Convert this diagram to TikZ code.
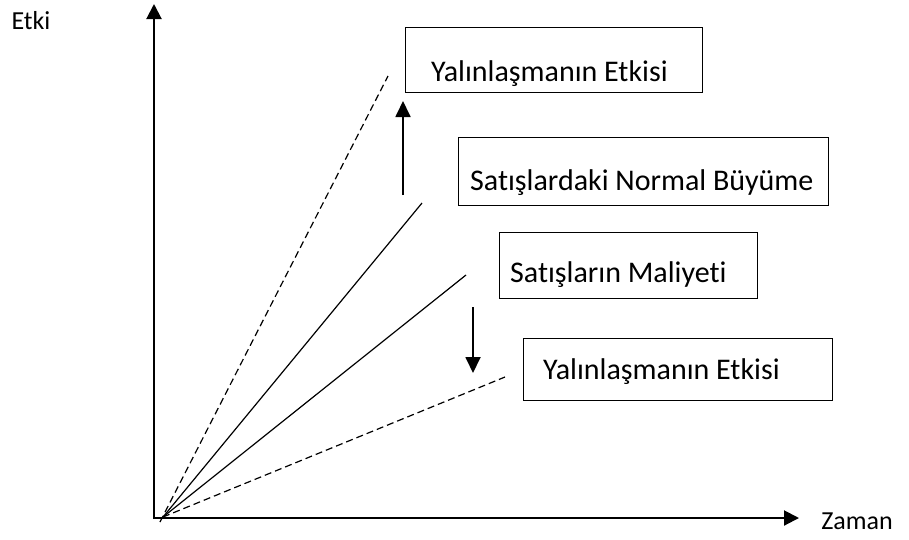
\documentclass[tikz,border=0pt]{standalone}
\usepackage{fontspec}
\setmainfont{Carlito}[Ligatures=NoCommon]
\usetikzlibrary{arrows.meta}
\begin{document}
\begin{tikzpicture}[x=1pt,y=-1pt,
  axis/.style={line width=2pt,-{Triangle[length=15pt,width=15pt]}},
  shift arrow/.style={line width=1.8pt,-{Triangle[length=16pt,width=15pt]}},
  trend/.style={line width=1.2pt},
  bound/.style={line width=1.2pt,dash pattern=on 7pt off 4pt},
  box/.style={draw,line width=1pt,inner sep=0pt,anchor=north west},
  lbl/.style={font=\fontsize{30}{34}\selectfont,inner sep=0pt,anchor=west},
  axlbl/.style={font=\fontsize{26}{30}\selectfont,inner sep=0pt}]
\useasboundingbox (0,0) rectangle (909,539);

% axes
\coordinate (O) at (154,518);
\coordinate (ytop) at (154,4);
\coordinate (xend) at (799,518);
\draw[axis] (154,519) -- (ytop);
\draw[axis] (153,518) -- (xend);
\node[axlbl] (etki) at (31,21) {Etki};
\node[axlbl] (zaman) at (857,521) {Zaman};

% trend lines from the origin
\coordinate (s1) at (160,522);
\coordinate (s2) at (163,517);
\coordinate (e1) at (388,76);
\coordinate (e2) at (422,203);
\coordinate (e3) at (466,275);
\coordinate (e4) at (505,377);
\draw[bound] (s1) -- (e1);
\draw[trend] (s2) -- (e2);
\draw[trend] (s2) -- (e3);
\draw[bound] (s2) -- (e4);

% shift arrows
\coordinate (u0) at (403,195);
\coordinate (u1) at (403,101);
\coordinate (d0) at (473,307);
\coordinate (d1) at (473,373);
\draw[shift arrow] (u0) -- (u1);
\draw[shift arrow] (d0) -- (d1);

% labelled boxes
\node[box,minimum width=297pt,minimum height=65pt] (b1) at (405,27) {};
\node[lbl] (t1) at (431,74) {Yalınlaşmanın Etkisi};
\node[box,minimum width=370pt,minimum height=68pt] (b2) at (458,137) {};
\node[lbl] (t2) at (470,183) {Satışlardaki Normal Büyüme};
\node[box,minimum width=258pt,minimum height=66pt] (b3) at (499,232) {};
\node[lbl] (t3) at (510,275) {Satışların Maliyeti};
\node[box,minimum width=309pt,minimum height=62pt] (b4) at (523,338) {};
\node[lbl] (t4) at (543,372) {Yalınlaşmanın Etkisi};
\end{tikzpicture}
\end{document}
